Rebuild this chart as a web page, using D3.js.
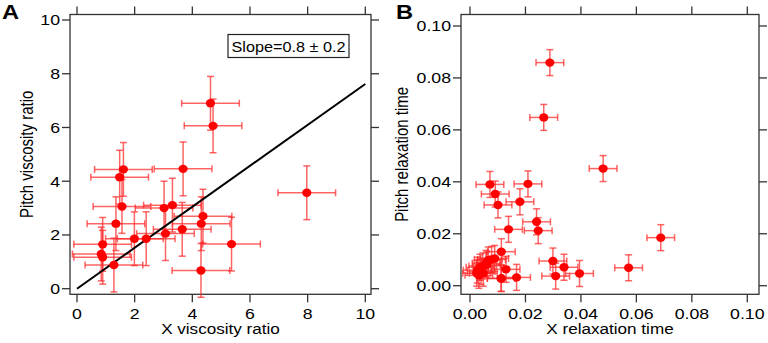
<!DOCTYPE html>
<html>
<head>
<meta charset="utf-8">
<script src="https://cdn.jsdelivr.net/npm/d3@7"></script>
<style>
  body { margin: 0; background: #fff; }
  svg { display: block; font-family: "Liberation Sans", Arial, sans-serif; }
</style>
</head>
<body>
<svg id="chart" width="768" height="343"></svg>
<script>
// Panel A: viscosity ratios
const aX    = [4.63, 4.72, 3.68, 1.61, 1.48, 1.56, 3.02, 3.31, 1.35, 4.37, 4.31, 3.65, 3.07, 1.99, 2.40, 0.89, 5.36, 0.84, 0.89, 1.28, 4.30, 7.97];
const aY    = [6.90, 6.06, 4.46, 4.44, 4.15, 3.06, 3.00, 3.11, 2.42, 2.70, 2.42, 2.21, 2.05, 1.86, 1.86, 1.65, 1.66, 1.29, 1.17, 0.88, 0.68, 3.57];
const aXErr = [1.0, 1.0, 1.0, 1.0, 1.0, 1.0, 1.0, 1.0, 1.0, 1.0, 1.0, 1.0, 1.0, 1.0, 1.0, 1.0, 1.0, 1.0, 1.0, 1.0, 1.0, 1.0];
const aYErr = [1.0, 1.0, 1.0, 1.0, 1.0, 1.0, 1.0, 1.0, 1.0, 1.0, 1.0, 1.0, 1.0, 1.0, 1.0, 1.0, 1.0, 1.0, 1.0, 1.0, 1.0, 1.0];
const fitSlope = 0.762;
const fitLabel = "Slope=0.8 \u00b1 0.2";

// Panel B: relaxation times
const bX = [0.0288, 0.0266, 0.0480, 0.0072, 0.0209, 0.0091, 0.0101, 0.0180, 0.0240, 0.0246, 0.0139, 0.0688,
            0.0113, 0.0299, 0.0339, 0.0309, 0.0395, 0.0572, 0.0168, 0.0130, 0.0113, 0.0089,
            0.0026, 0.0036, 0.0046, 0.0058, 0.0066, 0.0078, 0.0112, 0.0048, 0.0024, 0.0040, 0.0060, 0.0032];
const bY = [0.0859, 0.0648, 0.0451, 0.0390, 0.0392, 0.0353, 0.0311, 0.0323, 0.0246, 0.0212, 0.0217, 0.0185,
            0.0131, 0.0095, 0.0071, 0.0037, 0.0047, 0.0069, 0.0032, 0.0063, 0.0028, 0.0105,
            0.0060, 0.0071, 0.0076, 0.0086, 0.0099, 0.0101, 0.0028, 0.0048, 0.0048, 0.0055, 0.0080, 0.0040];
const bXErr = bX.map(() => 0.005);
const bYErr = bY.map(() => 0.005);

const ticksA = [0, 2, 4, 6, 8, 10];
const ticksB = [0, 0.02, 0.04, 0.06, 0.08, 0.10];

const svg = d3.select("#chart");
const SX = 1.18; // the source figure is a little wider than tall, text included

// text placed at (x, y), stretched horizontally like the source
function label(g, x, y, str, o = {}) {
  const t = g.append("g").attr("transform", `translate(${x},${y}) scale(${SX},1)${o.rotate ? " rotate(-90)" : ""}`)
    .append("text")
    .attr("text-anchor", o.anchor || "middle")
    .attr("font-size", o.size || 15)
    .attr("font-weight", o.weight || "normal")
    .attr("fill", "#000")
    .text(str);
  if (o.dy) t.attr("dy", o.dy);
  return t;
}

function panel(opt) {
  const g = svg.append("g");
  const x = d3.scaleLinear().domain(opt.xDomain).range(opt.xRange);
  const y = d3.scaleLinear().domain(opt.yDomain).range(opt.yRange);
  const f = opt.frame; // [left, top, right, bottom]

  g.append("rect")
    .attr("x", f[0]).attr("y", f[1])
    .attr("width", f[2] - f[0]).attr("height", f[3] - f[1])
    .attr("fill", "none").attr("stroke", "#333").attr("stroke-width", 1.3);

  const tl = 8;
  opt.xTicks.forEach(t => {
    g.append("line").attr("x1", x(t)).attr("x2", x(t)).attr("y1", f[3]).attr("y2", f[3] + tl)
      .attr("stroke", "#333").attr("stroke-width", 1.3);
    g.append("line").attr("x1", x(t)).attr("x2", x(t)).attr("y1", f[1]).attr("y2", f[1] - tl)
      .attr("stroke", "#333").attr("stroke-width", 1.3);
    label(g, x(t), f[3] + 25, opt.xFmt(t));
  });
  opt.yTicks.forEach(t => {
    g.append("line").attr("x1", f[0]).attr("x2", f[0] - tl).attr("y1", y(t)).attr("y2", y(t))
      .attr("stroke", "#333").attr("stroke-width", 1.3);
    g.append("line").attr("x1", f[2]).attr("x2", f[2] + tl).attr("y1", y(t)).attr("y2", y(t))
      .attr("stroke", "#333").attr("stroke-width", 1.3);
    label(g, f[0] - 10, y(t), opt.yFmt(t), { anchor: "end", dy: "0.36em" });
  });

  label(g, (f[0] + f[2]) / 2, f[3] + 40, opt.xTitle, { size: 14.5 });
  label(g, opt.yTitleX, (f[1] + f[3]) / 2, opt.yTitle, { rotate: true, size: 15 });
  label(g, opt.labelX, 19, opt.label, { anchor: "start", size: 20, weight: "bold" });

  const pts = opt.xs.map((v, i) => ({ x: v, y: opt.ys[i], ex: opt.xErr[i], ey: opt.yErr[i] }));
  const cap = 3.5;
  const eb = g.append("g").attr("stroke", "#ff2a2a").attr("stroke-opacity", 0.72).attr("stroke-width", 1.5);
  pts.forEach(d => {
    const cx = x(d.x), cy = y(d.y);
    const x0 = x(d.x - d.ex), x1 = x(d.x + d.ex);
    const y0 = y(d.y - d.ey), y1 = y(d.y + d.ey);
    eb.append("line").attr("x1", x0).attr("x2", x1).attr("y1", cy).attr("y2", cy);
    eb.append("line").attr("x1", x0).attr("x2", x0).attr("y1", cy - cap).attr("y2", cy + cap);
    eb.append("line").attr("x1", x1).attr("x2", x1).attr("y1", cy - cap).attr("y2", cy + cap);
    eb.append("line").attr("x1", cx).attr("x2", cx).attr("y1", y0).attr("y2", y1);
    eb.append("line").attr("x1", cx - cap).attr("x2", cx + cap).attr("y1", y0).attr("y2", y0);
    eb.append("line").attr("x1", cx - cap).attr("x2", cx + cap).attr("y1", y1).attr("y2", y1);
  });

  if (opt.after) opt.after(g, x, y);

  g.append("g").selectAll("ellipse").data(pts).join("ellipse")
    .attr("cx", d => x(d.x)).attr("cy", d => y(d.y))
    .attr("rx", 4.6).attr("ry", 4.2)
    .attr("fill", "#ff0000");
  return g;
}

panel({
  label: "A", labelX: 2,
  xDomain: [0, 10], xRange: [77, 365.3],
  yDomain: [0, 10], yRange: [288.7, 20],
  frame: [70, 14.5, 371, 294.3],
  xTicks: ticksA, yTicks: ticksA,
  xFmt: d3.format("d"), yFmt: d3.format("d"),
  xTitle: "X viscosity ratio", yTitle: "Pitch viscosity ratio", yTitleX: 33,
  xs: aX, ys: aY, xErr: aXErr, yErr: aYErr,
  after: (g, x, y) => {
    g.append("line")
      .attr("x1", x(0)).attr("y1", y(0))
      .attr("x2", x(10)).attr("y2", y(10 * fitSlope))
      .attr("stroke", "#000").attr("stroke-width", 2);
    g.append("rect").attr("x", 228).attr("y", 34.5).attr("width", 121).attr("height", 23)
      .attr("fill", "#fff").attr("stroke", "#222").attr("stroke-width", 1.2);
    g.append("text").attr("x", 288.5).attr("y", 51.5).attr("text-anchor", "middle")
      .attr("font-size", 15).attr("fill", "#000")
      .attr("textLength", 114).attr("lengthAdjust", "spacingAndGlyphs")
      .text(fitLabel);
  }
});

panel({
  label: "B", labelX: 396,
  xDomain: [0, 0.1], xRange: [470, 747.3],
  yDomain: [0, 0.1], yRange: [285.7, 26],
  frame: [461, 14.5, 759, 294.3],
  xTicks: ticksB, yTicks: ticksB,
  xFmt: d3.format(".2f"), yFmt: d3.format(".2f"),
  xTitle: "X relaxation time", yTitle: "Pitch relaxation time", yTitleX: 408,
  xs: bX, ys: bY, xErr: bXErr, yErr: bYErr
});
</script>
</body>
</html>
